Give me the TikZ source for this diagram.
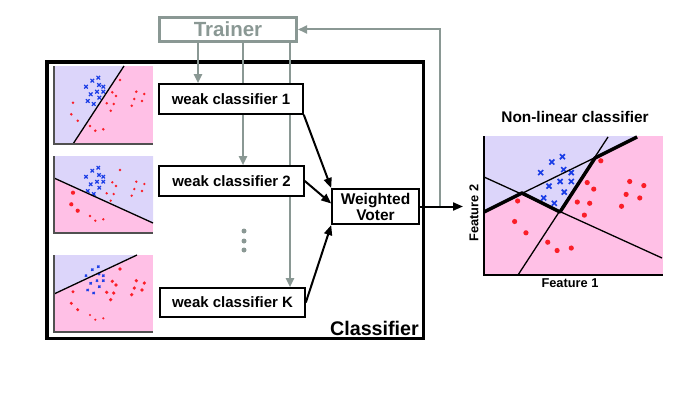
\documentclass[tikz,border=0pt]{standalone}
\usepackage{fontspec}
\setmainfont{Liberation Sans}
\usetikzlibrary{arrows.meta,calc}
\definecolor{lav}{RGB}{220,213,250}
\definecolor{pnk}{RGB}{255,192,230}
\definecolor{tgray}{RGB}{138,152,148}
\definecolor{dred}{RGB}{250,30,40}
\definecolor{dblue}{RGB}{25,60,230}
\definecolor{axgray}{RGB}{80,80,80}
\newcommand\myplot[8]{%
  \foreach \px/\py in {44.3/11.7,38.3/14.7,32/20.7,45/19,49.3/20.7,43/25.7,49.3/25.7,36.7/28.3,45.3/31.7,33.7/35,39.7/38}
    \draw[dblue, line width=#5] ({#1+#3*\px},{#2+#3*\py}) +(-#4,-#4) -- +(#4,#4) +(-#4,#4) -- +(#4,-#4);
  \foreach \px/\py in {66/14,58.3/26.3,62/30,52.7/37.3,59.7/38,56.7/44.7,82.3/25.7,90.3/28,80.3/33,88/35,77.7/39.7}
    \fill[dred] ({#1+#3*\px},{#2+#3*\py}) circle[radius=#6pt];
  \foreach \px/\py in {19/36.7,17.3/48.3,23.7/54.7}
    \fill[dred] ({#1+#3*\px},{#2+#3*\py}) circle[radius=#7pt];
  \foreach \px/\py in {36/60,41.3/64.7,49.3/63.3}
    \fill[dred] ({#1+#3*\px},{#2+#3*\py}) circle[radius=#8pt];
}
\begin{document}
\begin{tikzpicture}[x=1pt,y=-1pt,
  wbox/.style={draw=black, line width=1.6pt, fill=white, font=\fontsize{15}{16}\selectfont\bfseries, inner sep=0pt},
  gline/.style={draw=tgray, line width=2pt},
  garrow/.style={gline, -{Triangle[length=9pt,width=8pt]}},
  barrow/.style={draw=black, line width=2pt, -{Triangle[length=10pt,width=8pt]}},
  bline/.style={draw=black, line width=1.3pt},
  thick bound/.style={draw=black, line width=3.5pt, line join=round},
  axis/.style={draw=axgray, line width=1.6pt}]
\useasboundingbox (0,0) rectangle (695,412);
% classifier frame
\node[draw=black, line width=3.5pt, minimum width=376.5pt, minimum height=276.5pt, inner sep=0pt] (cls) at (235,200) {};
\node[anchor=base east, font=\fontsize{19.7}{20}\selectfont\bfseries, inner sep=0pt] (clslab) at (419,335) {Classifier};
% thumbnails
\fill[pnk] (54,66) rectangle (153,144);
\fill[lav] (54,66) -- (124,66) -- (73,144) -- (54,144) -- cycle;
\myplot{54}{66}{1}{1.8}{1.2pt}{1.4}{1.4}{1.4}
\draw[bline] (124,66) -- (73,144);
\draw[axis] (54,66) -- (54,144) -- (153,144);
\fill[pnk] (54,156) rectangle (153,233);
\fill[lav] (54,156) -- (153,156) -- (153,223) -- (54,178) -- cycle;
\myplot{54}{156}{1}{1.7}{1.2pt}{1.3}{2.1}{1.3}
\draw[bline] (54,178) -- (153,223);
\draw[axis] (54,156) -- (54,233) -- (153,233);
\fill[pnk] (54,255) rectangle (153,332);
\fill[lav] (54,255) -- (137,255) -- (54,294) -- cycle;
\myplot{54}{255}{1}{1.1}{1.1pt}{1.8}{1.7}{1.2}
\draw[bline] (54,294) -- (137,255);
\draw[axis] (54,255) -- (54,332) -- (153,332);
% trainer
\node[draw=tgray, line width=3pt, minimum width=137pt, minimum height=24pt, inner sep=0pt, text=tgray, font=\fontsize{20.5}{21}\selectfont\bfseries] (trainer) at (228,29.5) {Trainer};
% gray connectors
\coordinate (g1) at (198,0);
\coordinate (g2) at (243,0);
\coordinate (g3) at (290,0);
\coordinate (fb) at (440,0);
\node[wbox, minimum width=144pt, minimum height=30pt] (wc1) at (231,99) {weak classifier 1};
\node[wbox, minimum width=145pt, minimum height=30pt] (wc2) at (231.5,181) {weak classifier 2};
\node[wbox, minimum width=145pt, minimum height=29pt] (wck) at (232.5,302.5) {weak classifier K};
\draw[garrow] (trainer.south -| g1) -- (wc1.north -| g1);
\draw[gline] (trainer.south -| g2) -- (wc1.north -| g2);
\draw[garrow] (wc1.south -| g2) -- (wc2.north -| g2);
\draw[gline] (trainer.south -| g3) -- (wc1.north -| g3);
\draw[gline] (wc1.south -| g3) -- (wc2.north -| g3);
\draw[garrow] (wc2.south -| g3) -- (wck.north -| g3);
% voter
\node[wbox, minimum width=87pt, minimum height=35.5pt, align=center, font=\fontsize{15.5}{16}\selectfont\bfseries] (voter) at (375.5,206.5) {Weighted\\Voter};
\draw[barrow] (wc1.south east) -- (voter.north west);
\draw[barrow] (wc2.east) -- ($(voter.west)+(0,-3)$);
\draw[barrow] (wck.east) -- (voter.south west);
% ellipsis
\node[circle, fill=tgray, inner sep=0pt, minimum size=5pt] (d1) at (244,231) {};
\node[circle, fill=tgray, inner sep=0pt, minimum size=5pt] (d2) at (244,241) {};
\node[circle, fill=tgray, inner sep=0pt, minimum size=5pt] (d3) at (244,250) {};
% feedback
\draw[gline, -{Triangle[length=9pt,width=8pt]}] (voter.east -| fb) -- (fb |- trainer.east) -- (trainer.east);
\coordinate (outtip) at (463,206.5);
\draw[barrow] (voter.east) -- (outtip);
% right plot
\fill[pnk] (484,136) rectangle (663,275);
\fill[lav] (484,136) -- (484,212) -- (522,193) -- (560,212) -- (595,158) -- (637,136) -- cycle;
\myplot{484}{136}{1.77}{2.5}{1.7pt}{2.6}{2.6}{2.6}
\draw[bline] (484,177) -- (662,258);
\draw[bline] (484,212) -- (637,137);
\draw[bline] (518,275) -- (608,137);
\draw[thick bound] (484,212) -- (522,193) -- (560,212) -- (595,158) -- (637,137);
\draw[draw=black, line width=1.6pt] (484,136) -- (484,275) -- (663,275);
\node[font=\fontsize{15.4}{16}\selectfont\bfseries] (title) at (575,117) {Non-linear classifier};
\node[font=\fontsize{12.8}{14}\selectfont\bfseries] (f1) at (570,283) {Feature 1};
\node[font=\fontsize{12.8}{14}\selectfont\bfseries, rotate=90] (f2) at (474,213) {Feature 2};
\end{tikzpicture}
\end{document}
